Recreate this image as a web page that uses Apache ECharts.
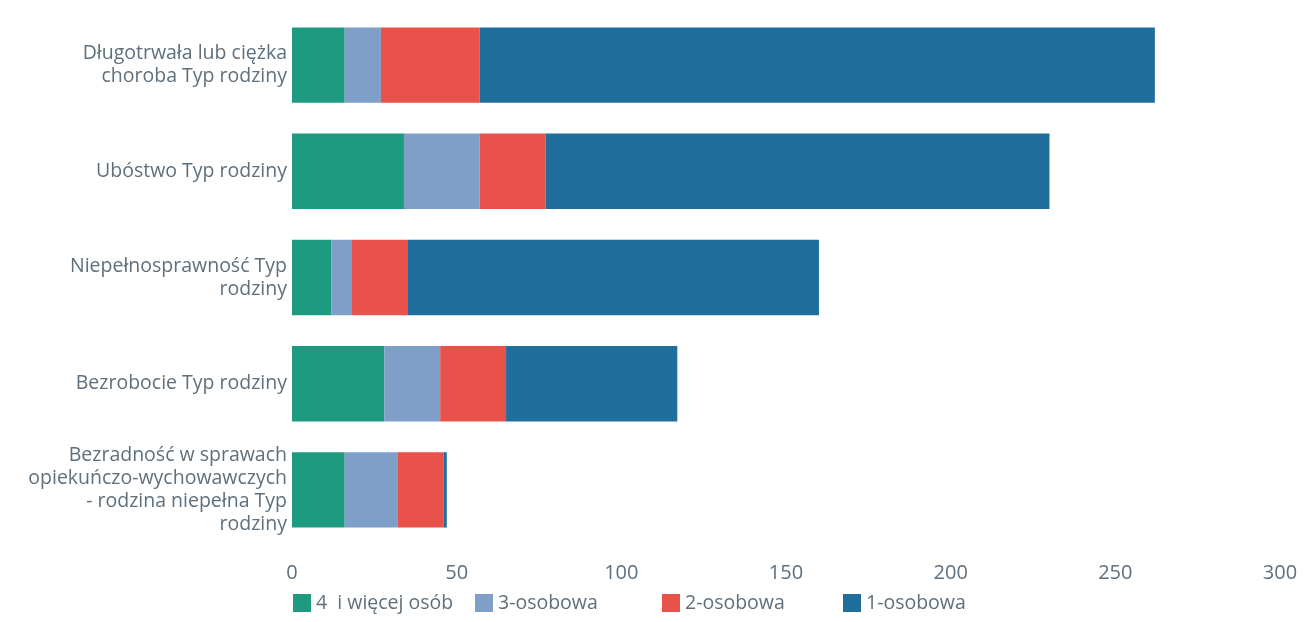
<!DOCTYPE html>
<html><head><meta charset="utf-8">
<script src="https://cdn.jsdelivr.net/npm/echarts@6/dist/echarts.min.js"></script>
<style>html,body{margin:0;padding:0;background:#fff}#c{width:1305px;height:622px}</style>
</head><body><div id="c"></div>
<script>
const categories = [
  "Długotrwała lub ciężka\nchoroba Typ rodziny",
  "Ubóstwo Typ rodziny",
  "Niepełnosprawność Typ\nrodziny",
  "Bezrobocie Typ rodziny",
  "Bezradność w sprawach\nopiekuńczo-wychowawczych\n- rodzina niepełna Typ\nrodziny"
];
const seriesNames = ["4  i więcej osób", "3-osobowa", "2-osobowa", "1-osobowa"];
const s4plus = [16, 34, 12, 28, 16];
const s3 = [11, 23, 6, 17, 16];
const s2 = [30, 20, 17, 20, 14];
const s1 = [205, 153, 125, 52, 1];
const xTicks = [0, 50, 100, 150, 200, 250, 300];
const colors = ["#1e9a80", "#7f9fc8", "#e8524a", "#1f6e9c"];

const legendLefts = [288, 470, 657, 838];

const chart = echarts.init(document.getElementById('c'));
const dataSets = [s4plus, s3, s2, s1];
chart.setOption({
  animation: false,
  color: colors,
  textStyle: {fontFamily: "Open Sans"},
  grid: {left: 292, right: 25, top: 12, bottom: 79, containLabel: false},
  xAxis: {
    type: 'value', min: xTicks[0], max: xTicks[xTicks.length-1], interval: 50,
    axisLine: {show: false}, axisTick: {show: false}, splitLine: {show: false},
    axisLabel: {color: "#5f6f7c", fontSize: 20, margin: 20, fontFamily: "Open Sans"}
  },
  yAxis: {
    type: 'category', data: categories, inverse: true,
    axisLine: {show: false}, axisTick: {show: false},
    axisLabel: {color: "#5f6f7c", fontSize: 19.5, lineHeight: 23, margin: 5, fontFamily: "Open Sans", align: 'right'}
  },
  legend: seriesNames.map((n, i) => ({
    bottom: 4, left: legendLefts[i], itemWidth: 18, itemHeight: 18, icon: 'rect',
    textStyle: {color: "#5f6f7c", fontSize: 19.5, fontFamily: "Open Sans"},
    data: [n]
  })),
  series: seriesNames.map((n, i) => ({
    name: n, type: 'bar', stack: 'total', barWidth: '71%',
    data: dataSets[i], itemStyle: {color: colors[i]}
  }))
});
</script></body></html>
